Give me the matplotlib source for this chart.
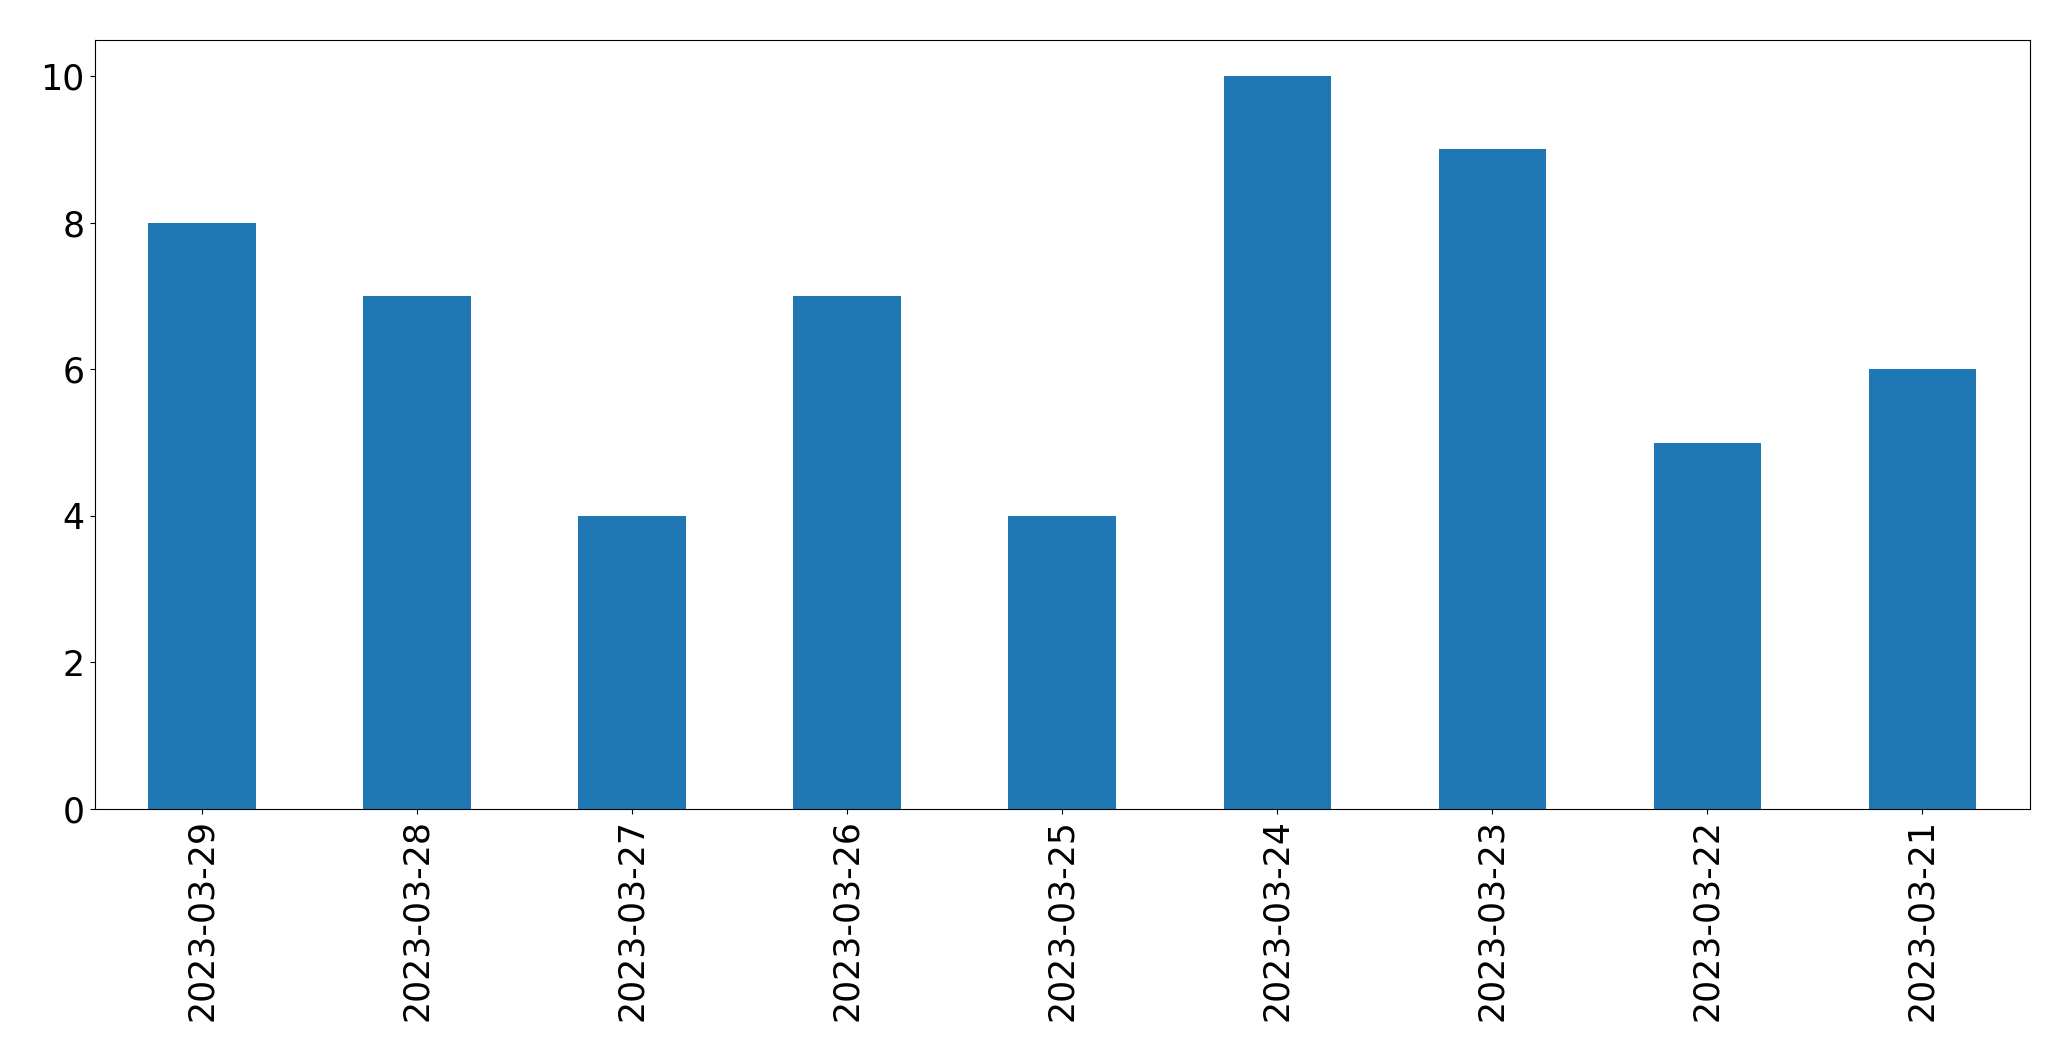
import matplotlib
matplotlib.use("Agg")
import matplotlib.pyplot as plt
import numpy as np

dates = ["2023-03-29", "2023-03-28", "2023-03-27", "2023-03-26", "2023-03-25",
         "2023-03-24", "2023-03-23", "2023-03-22", "2023-03-21"]
counts = [8, 7, 4, 7, 4, 10, 9, 5, 6]

fig = plt.figure(figsize=(20.71, 10.61), dpi=100)
ax = fig.add_axes([94.5 / 2071, 1 - 809 / 1061, (2030 - 94.5) / 2071, (809 - 39.5) / 1061])

x = np.arange(len(dates))
ax.bar(x, counts, width=0.5, color="#1f77b4")
ax.set_xlim(-0.5, len(dates) - 0.5)
ax.set_xticks(x)
ax.set_xticklabels(dates, rotation=90)
ax.tick_params(labelsize=25)

fig.savefig("out.png", dpi=100)
